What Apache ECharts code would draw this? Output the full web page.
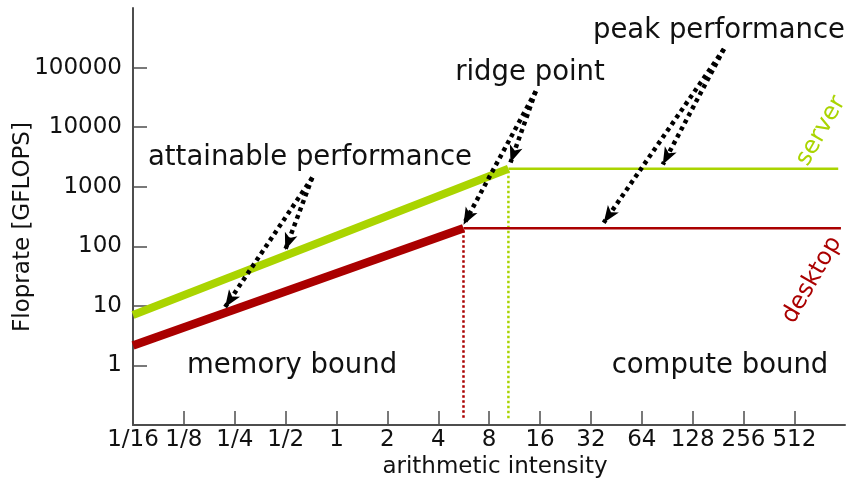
<!DOCTYPE html>
<html>
<head>
<meta charset="utf-8">
<script src="https://cdn.jsdelivr.net/npm/echarts@6/dist/echarts.min.js"></script>
<style>
html,body{margin:0;padding:0;background:#fff;}
#chart{width:846px;height:483px;}
</style>
</head>
<body>
<div id="chart"></div>
<script>
// ---- data ----
const xTickValues = [1/16, 1/8, 1/4, 1/2, 1, 2, 4, 8, 16, 32, 64, 128, 256, 512];
const xTickLabels = ['1/16', '1/8', '1/4', '1/2', '1', '2', '4', '8', '16', '32', '64', '128', '256', '512'];
const yTickValues = [1, 10, 100, 1000, 10000, 100000];
const yTickLabels = ['1', '10', '100', '1000', '10000', '100000'];

const serverSlope = [[1/16, 7.0], [10.4, 2000]];
const serverRoof = [[10.4, 2000], [930, 2000]];
const serverDrop = [[10.4, 1850], [10.4, 0.127]];
const desktopSlope = [[1/16, 2.17], [5.64, 200]];
const desktopRoof = [[5.64, 200], [965, 200]];
const desktopDrop = [[5.64, 185], [5.64, 0.127]];

// annotation arrows (start -> end), in data coordinates
const ridgeArrows = [[[15.1, 40000], [10.7, 2550]], [[15.1, 40000], [5.64, 230]]];
const peakArrows = [[[196, 205000], [85.2, 2360]], [[196, 205000], [38.1, 248]]];
const attainArrows = [[[0.719, 1423], [0.497, 86.9]], [[0.719, 1423], [0.219, 9.51]]];

const GREEN = '#aad400';
const RED = '#aa0000';
const AXIS = '#4d4d4d';
const TXT = '#111111';
const FONT = '"DejaVu Sans", sans-serif';

const chart = echarts.init(document.getElementById('chart'), null, {renderer: 'canvas'});

function lineSeries(data, color, width, type, z) {
  return {
    type: 'line', data: data, symbol: 'none', silent: true, z: z || 2,
    lineStyle: {color: color, width: width, type: type || 'solid', cap: 'butt'},
    animation: false
  };
}

const allArrows = ridgeArrows.concat(peakArrows, attainArrows).map(a => [{coord: a[0]}, {coord: a[1]}]);

const option = {
  animation: false,
  grid: {left: 133, right: 1, top: 8, bottom: 58, containLabel: false, outerBoundsMode: 'none'},
  xAxis: {
    type: 'log', logBase: 2, min: 1/16, max: 1020,
    axisLine: {show: true, lineStyle: {color: AXIS, width: 2}},
    axisTick: {show: true, inside: true, length: 14, lineStyle: {color: AXIS, width: 1.5}, customValues: xTickValues},
    axisLabel: {
      show: true, color: TXT, fontSize: 23, fontFamily: FONT, margin: 4,
      customValues: xTickValues,
      formatter: function (v) {
        const i = xTickValues.findIndex(t => Math.abs(t - v) / t < 1e-6);
        return i >= 0 ? xTickLabels[i] : '';
      }
    },
    splitLine: {show: false}, minorTick: {show: false}
  },
  yAxis: {
    type: 'log', logBase: 10, min: 0.1, max: 1e6,
    axisLine: {show: true, lineStyle: {color: AXIS, width: 2}},
    axisTick: {show: true, inside: true, length: 14, lineStyle: {color: AXIS, width: 1.5}, customValues: yTickValues},
    axisLabel: {
      show: true, color: TXT, fontSize: 23, fontFamily: FONT, margin: 11,
      customValues: yTickValues,
      formatter: function (v) {
        const i = yTickValues.findIndex(t => Math.abs(t - v) / t < 1e-6);
        return i >= 0 ? yTickLabels[i] : '';
      }
    },
    splitLine: {show: false}, minorTick: {show: false}
  },
  series: [
    lineSeries(desktopDrop, RED, 2.5, 'dotted', 2),
    lineSeries(serverDrop, GREEN, 2.5, 'dotted', 2),
    lineSeries(serverRoof, GREEN, 2.5, 'solid', 3),
    lineSeries(desktopRoof, RED, 2.5, 'solid', 3),
    lineSeries(serverSlope, GREEN, 8, 'solid', 4),
    lineSeries(desktopSlope, RED, 8.5, 'solid', 4),
    {
      type: 'line', data: [], silent: true, z: 10,
      markLine: {
        silent: true, animation: false,
        symbol: ['none', 'arrow'], symbolSize: [10, 17],
        label: {show: false},
        lineStyle: {color: '#000', width: 4.5, type: [4, 4], cap: 'butt'},
        emphasis: {disabled: true},
        data: allArrows
      }
    }
  ],
  graphic: [
    {type: 'text', x: 719, y: 31, style: {text: 'peak performance', fill: TXT, font: '27.5px ' + FONT, align: 'center', verticalAlign: 'middle'}},
    {type: 'text', x: 530, y: 73, style: {text: 'ridge point', fill: TXT, font: '27.5px ' + FONT, align: 'center', verticalAlign: 'middle'}},
    {type: 'text', x: 310, y: 158, style: {text: 'attainable performance', fill: TXT, font: '27.5px ' + FONT, align: 'center', verticalAlign: 'middle'}},
    {type: 'text', x: 292, y: 366, style: {text: 'memory bound', fill: TXT, font: '27.5px ' + FONT, align: 'center', verticalAlign: 'middle'}},
    {type: 'text', x: 720, y: 366, style: {text: 'compute bound', fill: TXT, font: '27.5px ' + FONT, align: 'center', verticalAlign: 'middle'}},
    {type: 'text', x: 821, y: 131, rotation: Math.PI / 3, style: {text: 'server', fill: GREEN, font: '24px ' + FONT, align: 'center', verticalAlign: 'middle'}},
    {type: 'text', x: 812, y: 280, rotation: Math.PI / 3, style: {text: 'desktop', fill: RED, font: '24px ' + FONT, align: 'center', verticalAlign: 'middle'}},
    {type: 'text', x: 495, y: 467, style: {text: 'arithmetic intensity', fill: TXT, font: '23px ' + FONT, align: 'center', verticalAlign: 'middle'}},
    {type: 'text', x: 23, y: 227, rotation: Math.PI / 2, style: {text: 'Floprate [GFLOPS]', fill: TXT, font: '23px ' + FONT, align: 'center', verticalAlign: 'middle'}}
  ]
};
chart.setOption(option);
</script>
</body>
</html>
